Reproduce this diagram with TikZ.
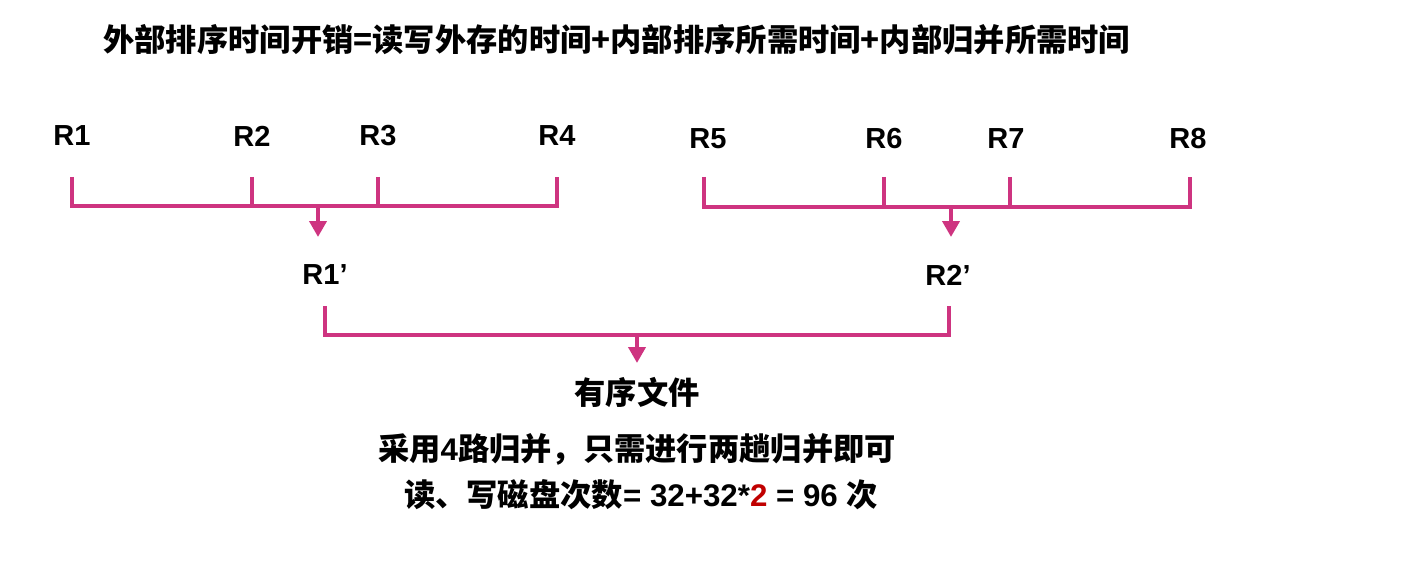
\documentclass[tikz,border=0pt]{standalone}
\usepackage{fontspec}
\setmainfont{Liberation Sans}
\newfontfamily\cjk{Noto Sans CJK SC}
\usetikzlibrary{arrows.meta}
\definecolor{mergepink}{RGB}{206,52,128}
\definecolor{twored}{RGB}{192,0,0}
\tikzset{
  runlabel/.style={font=\bfseries\fontsize{16.5}{18}\selectfont, inner sep=0pt},
  cjklabel/.style={font=\cjk\bfseries\fontsize{17.8}{20}\selectfont, inner sep=0pt},
  bracket/.style={line width=2.2pt, draw=mergepink, line cap=butt, line join=miter},
  mergearrow/.style={line width=2.2pt, draw=mergepink, -{Triangle[width=0.34cm,length=0.32cm]}, fill=mergepink},
}

\begin{document}
\begin{tikzpicture}
\useasboundingbox (0,0) rectangle (28.56,11.28);
\node[cjklabel, anchor=west] (title) at (2.06,10.48) {外部排序时间开销=读写外存的时间+内部排序所需时间+内部归并所需时间};
% first pass, left group
\node[runlabel] (R1) at (1.44,8.56) {R1};
\node[runlabel] (R2) at (5.04,8.56) {R2};
\node[runlabel] (R3) at (7.56,8.56) {R3};
\node[runlabel] (R4) at (11.14,8.56) {R4};
\coordinate (t1) at (1.44,7.74);
\coordinate (t2) at (5.04,7.74);
\coordinate (t3) at (7.56,7.74);
\coordinate (t4) at (11.14,7.74);
\coordinate (b1) at (1.44,7.16);
\coordinate (b4) at (11.14,7.16);
\coordinate (m1) at (6.36,7.16);
\coordinate (a1) at (6.36,6.54);
\draw[bracket] (t1) -- (b1) -- (b4) -- (t4);
\draw[bracket] (t2) -- (t2 |- b1);
\draw[bracket] (t3) -- (t3 |- b1);
\draw[mergearrow] (m1) -- (a1);
% first pass, right group
\node[runlabel] (R5) at (14.16,8.50) {R5};
\node[runlabel] (R6) at (17.68,8.50) {R6};
\node[runlabel] (R7) at (20.12,8.50) {R7};
\node[runlabel] (R8) at (23.76,8.50) {R8};
\coordinate (t5) at (14.08,7.74);
\coordinate (t6) at (17.68,7.74);
\coordinate (t7) at (20.20,7.74);
\coordinate (t8) at (23.80,7.74);
\coordinate (b5) at (14.08,7.14);
\coordinate (b8) at (23.80,7.14);
\coordinate (m2) at (19.02,7.14);
\coordinate (a2) at (19.02,6.54);
\draw[bracket] (t5) -- (b5) -- (b8) -- (t8);
\draw[bracket] (t6) -- (t6 |- b5);
\draw[bracket] (t7) -- (t7 |- b5);
\draw[mergearrow] (m2) -- (a2);
% second pass
\node[runlabel] (R1p) at (6.50,5.78) {R1’};
\node[runlabel] (R2p) at (18.96,5.78) {R2’};
\coordinate (t9) at (6.50,5.16);
\coordinate (t10) at (18.98,5.16);
\coordinate (b9) at (6.50,4.58);
\coordinate (b10) at (18.98,4.58);
\coordinate (m3) at (12.74,4.58);
\coordinate (a3) at (12.74,4.02);
\draw[bracket] (t9) -- (b9) -- (b10) -- (t10);
\draw[mergearrow] (m3) -- (a3);
\node[cjklabel] (sorted) at (12.74,3.44) {有序文件};
\node[cjklabel] (note1) at (12.74,2.30) {采用\textbf{\fontspec{Liberation Sans}4}路归并，只需进行两趟归并即可};
\node[cjklabel] (note2) at (12.82,1.38) {读、写磁盘次数{\fontspec{Liberation Sans}\bfseries = 32+32*\textcolor{twored}{2} = 96 }次};
\end{tikzpicture}
\end{document}
